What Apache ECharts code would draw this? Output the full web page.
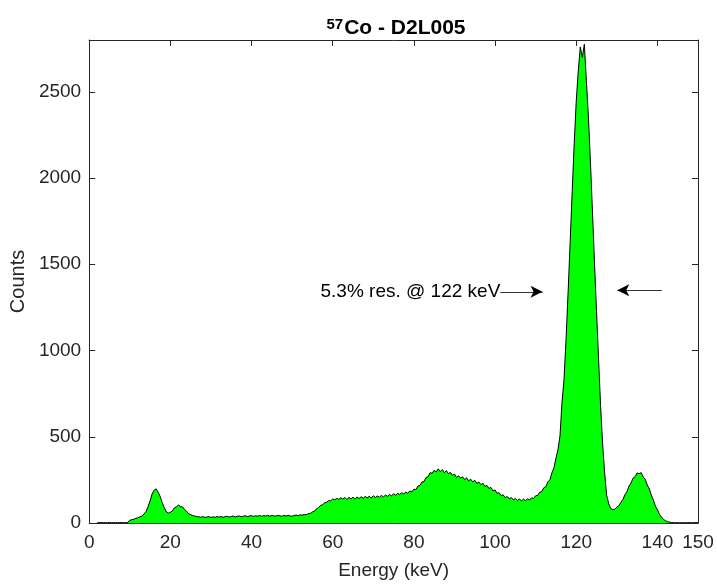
<!DOCTYPE html>
<html>
<head>
<meta charset="utf-8">
<script src="https://cdn.jsdelivr.net/npm/echarts@6/dist/echarts.min.js"></script>
<style>
  html, body { margin: 0; padding: 0; background: #fff; }
  #chart { width: 717px; height: 587px; }
</style>
</head>
<body>
<div id="chart"></div>
<script>
// Spectrum: counts per 0.5 keV bin, first bin at 2 keV
var binStart = 2;
var binWidth = 0.5;
var counts = [
  2, 2, 3, 2, 2, 2, 3, 2, 2, 2,            // 2.0 - 6.5
  2, 3, 2, 2, 2, 3, 16, 19, 22, 27,        // 7.0 - 11.5
  30, 36, 40, 52, 66, 94, 128, 168, 190, 198,   // 12.0 - 16.5
  178, 154, 118, 90, 64, 57, 62, 70, 88, 94,    // 17.0 - 21.5
  104, 95, 93, 78, 68, 53, 49, 43, 41, 37,      // 22.0 - 26.5
  36, 33, 38, 32, 35, 37, 32, 36, 33, 37,       // 27.0 - 31.5
  34, 38, 33, 37, 39, 34, 38, 40, 35, 39,       // 32.0 - 36.5
  41, 36, 40, 42, 37, 41, 43, 38, 42, 39,       // 37.0 - 41.5
  44, 39, 43, 40, 45, 39, 44, 41, 40, 45,       // 42.0 - 46.5
  41, 39, 44, 40, 45, 41, 39, 44, 46, 43,       // 47.0 - 51.5
  47, 46, 49, 48, 54, 55, 64, 69, 82, 89,       // 52.0 - 56.5
  102, 106, 117, 120, 130, 128, 139, 135, 143, 137,  // 57.0 - 61.5
  146, 139, 148, 136, 149, 140, 150, 138, 151, 142,  // 62.0 - 66.5
  152, 143, 154, 146, 155, 145, 158, 148, 156, 150,  // 67.0 - 71.5
  160, 151, 162, 155, 166, 157, 170, 161, 172, 165,  // 72.0 - 76.5
  176, 168, 180, 172, 186, 180, 196, 194, 214, 218,  // 77.0 - 81.5
  238, 240, 264, 268, 292, 288, 306, 296, 314, 298,  // 82.0 - 86.5
  310, 292, 304, 286, 294, 276, 284, 264, 274, 260,  // 87.0 - 91.5
  268, 252, 262, 244, 254, 238, 248, 230, 238, 222,  // 92.0 - 96.5
  230, 212, 218, 200, 206, 186, 192, 172, 176, 158,  // 97.0 - 101.5
  164, 146, 154, 140, 148, 134, 142, 130, 140, 128,  // 102.0 - 106.5
  138, 130, 140, 134, 146, 142, 158, 160, 178, 182,  // 107.0 - 111.5
  204, 210, 238, 250, 290, 320, 375, 425, 505, 700,  // 112.0 - 116.5
  835, 1070, 1340, 1627, 1921, 2201, 2444, 2620, 2760, 2700,  // 117.0 - 121.5
  2775, 2564, 2353, 2093, 1804, 1510, 1227, 952, 680, 460,    // 122.0 - 126.5
  290, 160, 112, 84, 78, 80, 92, 100, 120, 136,      // 127.0 - 131.5
  164, 182, 214, 232, 260, 268, 290, 286, 292, 266,  // 132.0 - 136.5
  254, 220, 198, 162, 134, 98, 77, 50, 35, 21,       // 137.0 - 141.5
  13, 8, 5, 3, 2, 2, 2, 1, 2, 2,                     // 142.0 - 146.5
  1, 2, 2, 1, 2, 2, 2                                // 147.0 - 150.0
];

var xTicks = [0, 20, 40, 60, 80, 100, 120, 140, 150];
var yTicks = [0, 500, 1000, 1500, 2000, 2500];
var annText = '5.3% res. @ 122 keV';
var arrowRight = [[101.3, 1340], [111.7, 1340]];
var arrowLeft = [[141.1, 1350], [130.1, 1350]];

var seriesData = counts.map(function (c, i) { return [binStart + i * binWidth, c]; });

var txt = '#262626';
var axisBase = {
  type: 'value', min: 0, max: 150, interval: 20,
  axisLine: { show: true, onZero: false, lineStyle: { color: txt, width: 1 } },
  axisTick: { show: true, inside: true, length: 6, lineStyle: { color: txt } },
  splitLine: { show: false }
};

var chart = echarts.init(document.getElementById('chart'), null, { renderer: 'canvas' });
chart.setOption({
  animation: false,
  backgroundColor: '#fff',
  title: {
    text: '{sup|57}{main|Co - D2L005}',
    left: 391, top: 12, textAlign: 'center',
    textStyle: {
      rich: {
        sup: { fontFamily: 'Liberation Sans', fontWeight: 'bold', fontSize: 15, color: '#000', verticalAlign: 'top', lineHeight: 22, padding: [0, 1, 8, 0] },
        main: { fontFamily: 'Liberation Sans', fontWeight: 'bold', fontSize: 21, color: '#000', lineHeight: 22 }
      }
    }
  },
  grid: { left: 87, right: 19, top: 40, bottom: 64, containLabel: false },
  xAxis: [
    Object.assign({}, axisBase, {
      position: 'bottom',
      name: 'Energy (keV)', nameLocation: 'middle', nameGap: 38,
      nameTextStyle: { fontFamily: 'Liberation Sans', fontSize: 19, color: txt },
      axisLabel: { fontFamily: 'Liberation Sans', fontSize: 19, color: txt, margin: 10,
        formatter: function (v) { return xTicks.indexOf(v) >= 0 ? String(v) : ''; } }
    }),
    Object.assign({}, axisBase, { position: 'top', axisLabel: { show: false } })
  ],
  yAxis: [
    {
      type: 'value', min: 0, max: 2800, interval: 500, position: 'left',
      name: 'Counts', nameLocation: 'middle', nameGap: 56,
      nameTextStyle: { fontFamily: 'Liberation Sans', fontSize: 20, color: txt },
      axisLine: { show: true, onZero: false, lineStyle: { color: txt, width: 1 } },
      axisTick: { show: true, inside: true, length: 6, lineStyle: { color: txt } },
      axisLabel: { fontFamily: 'Liberation Sans', fontSize: 19, color: txt, margin: 8, showMaxLabel: false,
        formatter: function (v) { return yTicks.indexOf(v) >= 0 ? String(v) : ''; } },
      splitLine: { show: false }
    },
    {
      type: 'value', min: 0, max: 2800, interval: 500, position: 'right',
      axisLine: { show: true, onZero: false, lineStyle: { color: txt, width: 1 } },
      axisTick: { show: true, inside: true, length: 6, lineStyle: { color: txt } },
      axisLabel: { show: false },
      splitLine: { show: false }
    }
  ],
  series: [{
    type: 'line',
    data: seriesData,
    showSymbol: false,
    sampling: 'none',
    lineStyle: { color: '#000', width: 1 },
    areaStyle: { color: '#00ff00', opacity: 1 },
    z: 1,
    markLine: {
      silent: true,
      symbol: ['none', 'arrow'],
      symbolSize: [9, 12],
      lineStyle: { color: '#000', width: 0.8, type: 'solid' },
      label: { show: false },
      data: [
        [{ coord: arrowRight[0], label: { show: true, position: 'start', formatter: annText,
            fontFamily: 'Liberation Sans', fontSize: 19, color: '#000', distance: 0 } },
         { coord: arrowRight[1] }],
        [{ coord: arrowLeft[0] }, { coord: arrowLeft[1] }]
      ]
    }
  }]
});
</script>
</body>
</html>
